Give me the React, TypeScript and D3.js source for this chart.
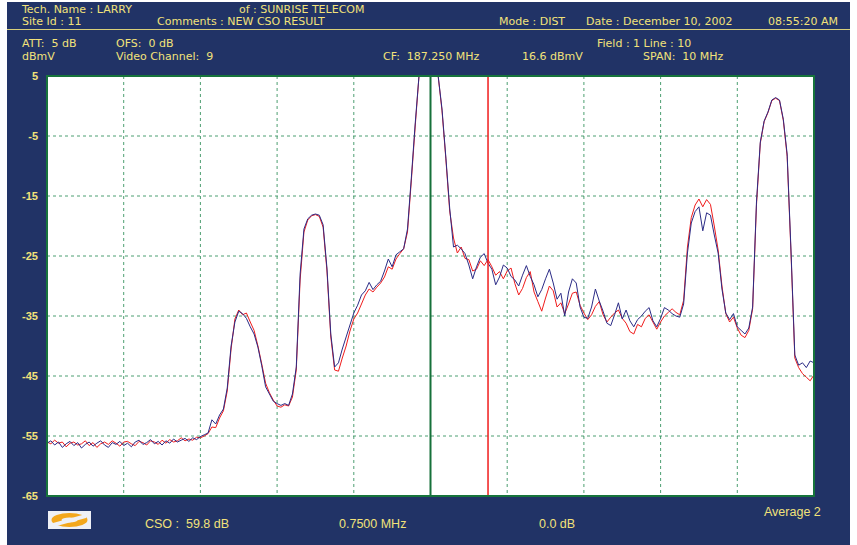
import * as d3 from "d3"

// spectrum: CF 187.25 MHz, span 10 MHz, 0.05 MHz per point
const startFreq = 182.25
const stepFreq = 0.05
const yTicks = [5, -5, -15, -25, -35, -45, -55, -65]
const xGrid = [183.25, 184.25, 185.25, 186.25, 187.25, 188.25, 189.25, 190.25, 191.25]
const markerFreq = 187.25
const deltaFreq = 188.0

const blueTrace = [
  -56.2, -55.8, -56.5, -56.0, -56.9, -56.3, -55.9, -56.6, -56.1, -57.0,
  -56.4, -56.0, -56.7, -56.2, -55.8, -56.5, -56.9, -56.1, -56.4, -55.9,
  -56.6, -56.2, -56.8, -56.0, -55.7, -56.4, -56.1, -55.6, -56.3, -55.9,
  -56.5, -55.8, -56.2, -55.5, -56.0, -55.7, -55.4, -55.9, -55.3, -55.6,
  -55.1, -54.8, -54.5, -52.3, -53.0, -51.5, -50.5, -47.0, -40.0, -36.0,
  -34.2, -34.6, -35.4, -36.8, -38.0, -40.2, -43.3, -46.8, -48.0, -49.2,
  -49.6, -49.9, -49.6, -49.9, -48.0, -43.5, -28.0, -20.5, -18.8, -18.2,
  -18.0, -18.2, -19.8, -27.0, -38.0, -43.5, -42.8, -40.5, -38.5, -36.5,
  -34.5, -33.2, -31.5, -30.8, -29.4, -30.6, -29.8, -29.2, -27.5, -25.5,
  -26.8, -24.8, -24.3, -23.8, -20.5, -12.0, -3.0, 5.0, 6.0, 7.0,
  7.0, 7.0, 6.0, -0.5, -8.5, -17.0, -23.5, -23.2, -23.8, -24.6,
  -26.5, -28.8, -26.8, -25.2, -24.6, -26.2, -27.2, -29.8, -28.5, -26.5,
  -27.0, -28.4, -29.0, -30.0, -28.2, -26.6, -28.4, -29.8, -31.8, -30.6,
  -28.8, -27.2, -29.5, -32.2, -31.2, -35.0, -31.0, -28.8, -29.5, -33.5,
  -35.2, -35.4, -33.5, -30.5, -32.5, -34.2, -36.2, -36.6, -34.8, -32.8,
  -35.5, -34.0, -35.8, -36.8, -35.6, -35.0, -34.2, -33.6, -35.8, -36.8,
  -35.4, -33.6, -34.0, -34.6, -35.0, -35.2, -33.0, -24.5, -19.5, -17.6,
  -16.8, -20.8, -17.8, -18.2, -21.5, -24.5, -30.5, -34.5, -35.6, -34.6,
  -36.8, -37.4, -38.0, -37.0, -33.5, -16.0, -6.0, -2.5, -1.0, 1.0,
  1.4, 1.0, -2.2, -8.0, -24.0, -41.5, -43.2, -42.8, -43.6, -42.5,
  -42.8,
]

const redTrace = [
  -56.0, -56.3, -55.7, -56.2, -56.0, -56.8, -56.2, -56.0, -56.5, -56.3,
  -55.8, -56.6, -56.1, -56.9, -56.3, -56.0, -56.4, -55.8, -56.2, -56.7,
  -56.0, -55.9, -56.3, -56.6, -55.9, -56.1, -56.5, -55.8, -56.0, -56.4,
  -55.7, -56.2, -55.6, -56.0, -55.8, -55.3, -55.8, -55.5, -55.7, -55.2,
  -55.3, -55.0, -54.6, -53.5, -53.6, -52.0, -50.8, -47.5, -40.5, -35.5,
  -34.0, -34.8, -34.5, -36.0, -37.4, -40.0, -43.0, -46.2, -47.8, -49.0,
  -50.0, -50.2, -49.8, -50.0, -48.5, -44.0, -29.0, -21.0, -19.0, -18.3,
  -18.1, -18.4, -20.2, -27.5, -38.5, -44.0, -44.2, -42.0, -40.0, -37.5,
  -35.5, -34.5, -33.0, -31.5, -30.5, -31.0, -30.2, -29.5, -28.5, -26.8,
  -27.2, -25.5, -24.6, -23.8, -21.0, -12.5, -3.5, 5.0, 6.0, 7.0,
  7.0, 7.0, 6.0, -0.8, -8.8, -17.5, -22.0, -24.5, -23.5, -25.4,
  -25.6, -27.5, -27.2, -25.8, -26.6, -25.6, -26.8, -28.2, -27.6, -28.8,
  -27.5, -27.0, -29.6, -31.5, -30.4, -28.6, -27.6, -31.0, -32.6, -34.2,
  -32.0, -30.0, -30.8, -33.5, -32.8, -34.6, -33.0, -31.2, -31.0, -33.2,
  -34.5, -35.6, -34.8, -33.4, -32.6, -34.8, -36.0, -35.2, -34.5, -34.0,
  -35.4, -36.2, -37.6, -38.0, -36.4, -36.8, -35.4, -34.8, -36.0, -37.2,
  -36.0, -35.0, -34.4, -33.8, -34.4, -34.8, -32.4, -23.5, -18.6, -16.5,
  -15.5, -16.8, -15.6, -16.4, -20.0, -24.0, -30.0, -34.6, -36.0, -35.2,
  -37.0, -38.2, -38.6, -37.4, -33.8, -16.5, -6.2, -2.6, -1.1, 0.9,
  1.3, 0.9, -2.4, -8.4, -24.5, -42.0, -43.6, -44.6, -45.2, -45.8,
  -44.8,
]

const W = 857
const H = 545
const plot = { left: 47, top: 76, right: 814, bottom: 496 }
const navy = "#213366"
const yellow = "#f2e27a"
const gridGreen = "#2f8f5a"
const font = "'DejaVu Sans', Verdana, sans-serif"
const narrow = "'Liberation Sans', Arial, sans-serif"

export default function App() {
  const x = d3.scaleLinear().domain([182.25, 192.25]).range([plot.left, plot.right])
  const y = d3.scaleLinear().domain([5, -65]).range([plot.top, plot.bottom]).clamp(true)

  const line = d3
    .line<number>()
    .x((_, i) => x(startFreq + i * stepFreq))
    .y((d) => y(d))

  const hdr = (t: string, tx: number, ty: number) => (
    <text
      x={tx}
      y={ty}
      fill={yellow}
      fontFamily={font}
      fontSize={11}
      style={{ whiteSpace: "pre" }}
    >
      {t}
    </text>
  )

  const foot = (t: string, tx: number, ty: number) => (
    <text
      x={tx}
      y={ty}
      fill={yellow}
      fontFamily={narrow}
      fontSize={12.5}
      style={{ whiteSpace: "pre" }}
    >
      {t}
    </text>
  )

  return (
    <svg
      width={W}
      height={H}
      style={{ position: "absolute", left: 0, top: 0, background: "#fff" }}
    >
      <rect x={7} y={2} width={843} height={543} fill={navy} />

      {hdr("Tech. Name : LARRY", 22, 13)}
      {hdr("of : SUNRISE TELECOM", 239, 13)}
      {hdr("Site Id : 11", 22, 25)}
      {hdr("Comments : NEW CSO RESULT", 157, 25)}
      {hdr("Mode : DIST", 499, 25)}
      {hdr("Date : December 10, 2002", 586, 25)}
      {hdr("08:55:20 AM", 768, 25)}
      <line x1={7} x2={850} y1={29.5} y2={29.5} stroke="#d8cf7a" strokeWidth={1} />
      {hdr("ATT:  5 dB", 22, 47)}
      {hdr("OFS:  0 dB", 116, 47)}
      {hdr("Field : 1 Line : 10", 597, 47)}
      {hdr("dBmV", 22, 60)}
      {hdr("Video Channel:  9", 116, 60)}
      {hdr("CF:  187.250 MHz", 383, 60)}
      {hdr("16.6 dBmV", 522, 60)}
      {hdr("SPAN:  10 MHz", 643, 60)}

      <rect
        x={plot.left}
        y={plot.top}
        width={plot.right - plot.left}
        height={plot.bottom - plot.top}
        fill="#fff"
      />

      {yTicks.slice(1, -1).map((t) => (
        <line
          key={"h" + t}
          x1={plot.left}
          x2={plot.right}
          y1={y(t)}
          y2={y(t)}
          stroke={gridGreen}
          strokeWidth={1}
          strokeDasharray="3,3"
          opacity={0.85}
        />
      ))}
      {xGrid.map((f) => (
        <line
          key={"v" + f}
          x1={x(f)}
          x2={x(f)}
          y1={plot.top}
          y2={plot.bottom}
          stroke={gridGreen}
          strokeWidth={1}
          strokeDasharray="3,3"
          opacity={0.85}
        />
      ))}

      <path d={line(redTrace) || ""} fill="none" stroke="#f01c1c" strokeWidth={1} />
      <path d={line(blueTrace) || ""} fill="none" stroke="#2b2b86" strokeWidth={1} />

      <line
        x1={x(markerFreq)}
        x2={x(markerFreq)}
        y1={plot.top}
        y2={plot.bottom}
        stroke="#16713a"
        strokeWidth={2}
      />
      <line
        x1={x(deltaFreq)}
        x2={x(deltaFreq)}
        y1={plot.top}
        y2={plot.bottom}
        stroke="#f01c1c"
        strokeWidth={1.5}
      />

      <rect
        x={plot.left}
        y={plot.top}
        width={plot.right - plot.left}
        height={plot.bottom - plot.top}
        fill="none"
        stroke="#17743c"
        strokeWidth={2}
      />

      {yTicks.map((t) => (
        <text
          key={"yl" + t}
          x={38}
          y={y(t)}
          dy="0.35em"
          textAnchor="end"
          fill={yellow}
          fontFamily={narrow}
          fontWeight="bold"
          fontSize={11}
        >
          {t}
        </text>
      ))}

      {/* logo */}
      <rect x={48} y={511} width={43} height={18} fill="#eef0f6" />
      <ellipse cx={69.5} cy={520} rx={18} ry={7} fill="#f3a71c" />
      <path d="M53,523 L86,514 L86,518 L53,527 Z" fill="#eef0f6" />
      <ellipse cx={69.5} cy={520} rx={8} ry={2.5} fill="#eef0f6" />

      {foot("CSO :  59.8 dB", 145, 528)}
      {foot("0.7500 MHz", 339, 528)}
      {foot("0.0 dB", 539, 528)}
      {foot("Average 2", 764, 516)}
    </svg>
  )
}
